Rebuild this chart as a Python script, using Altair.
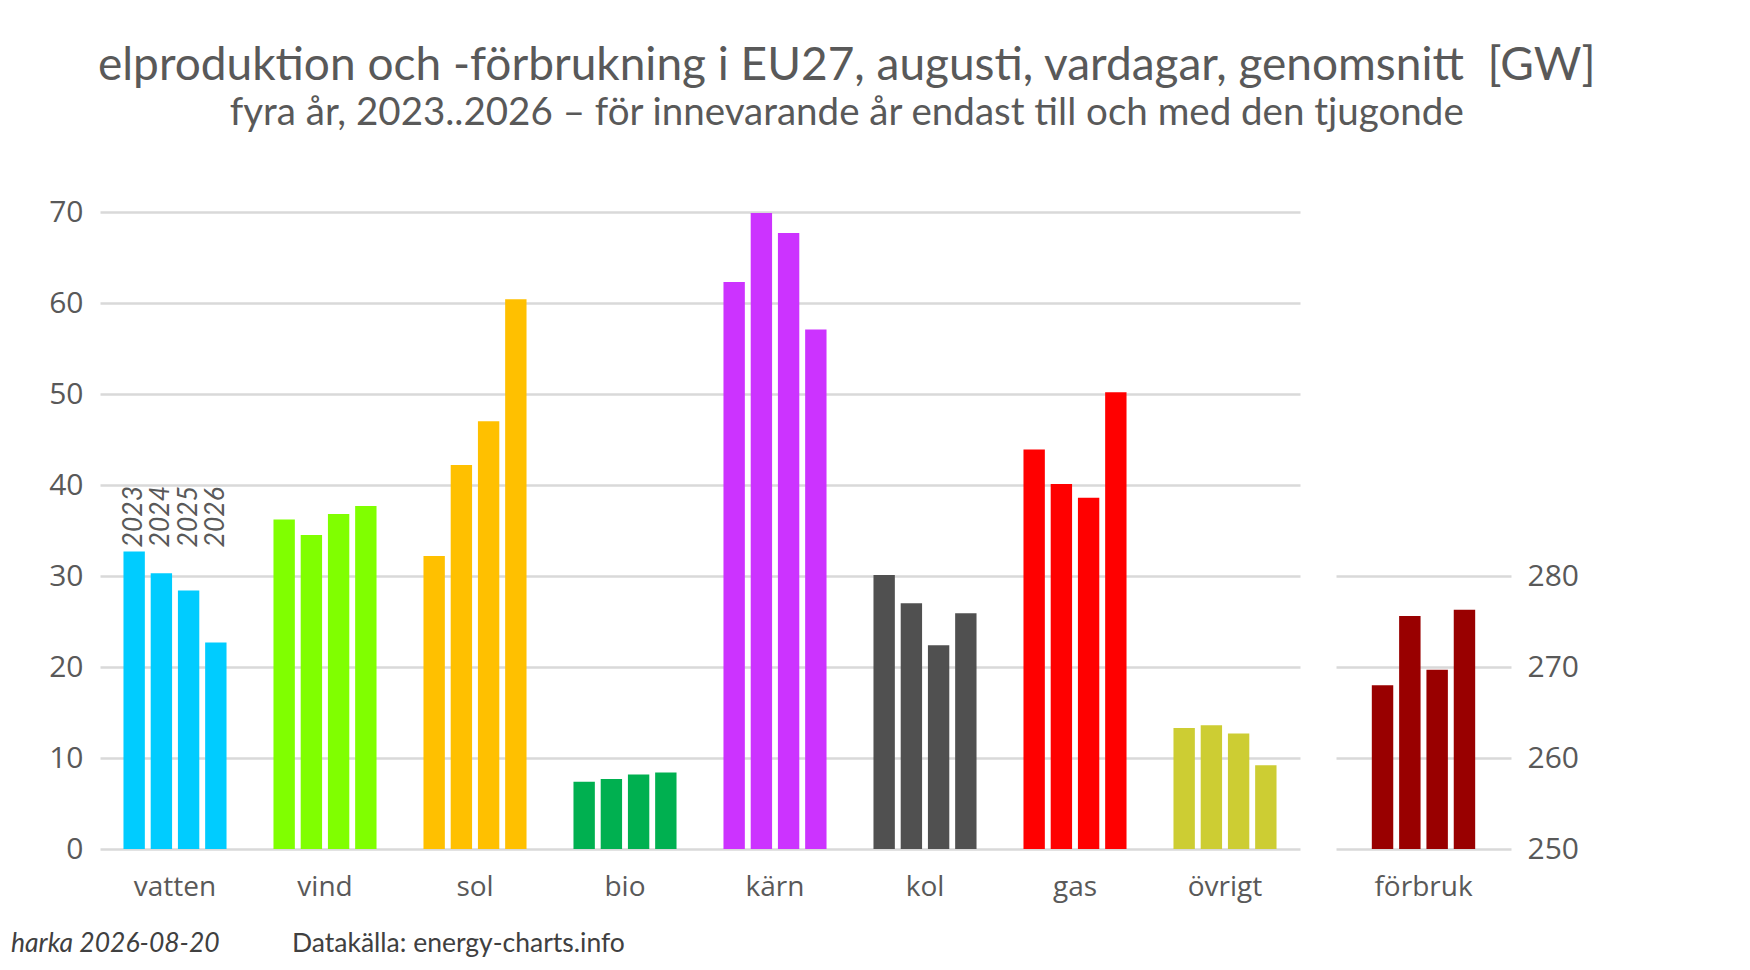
import altair as alt
import pandas as pd

years = ["2023", "2024", "2025", "2026"]
cats = ["vatten", "vind", "sol", "bio", "kärn", "kol", "gas", "övrigt"]
vatten = [32.7, 30.3, 28.4, 22.7]
vind = [36.2, 34.5, 36.8, 37.7]
sol = [32.2, 42.2, 47.0, 60.4]
bio = [7.4, 7.7, 8.2, 8.4]
karn = [62.3, 69.9, 67.7, 57.1]
kol = [30.1, 27.0, 22.4, 25.9]
gas = [43.9, 40.1, 38.6, 50.2]
ovrigt = [13.3, 13.6, 12.7, 9.2]
forbruk_cat = "förbruk"
forbruk = [268.0, 275.6, 269.7, 276.3]
colors = ["#00CCFF", "#80FF00", "#FFC000", "#00B050", "#CC33FF", "#505050", "#FF0000", "#CDCD33"]
forbruk_color = "#990000"

title_text = "elproduktion och -förbrukning i EU27, augusti, vardagar, genomsnitt\u00a0 [GW]"
subtitle_text = "fyra år, 2023..2026 – för innevarande år endast till och med den tjugonde"
footer_left = "harka 2026-08-20"
footer_right = "Datakälla: energy-charts.info"

series = [vatten, vind, sol, bio, karn, kol, gas, ovrigt]
rows = []
for c, vals in zip(cats, series):
    for y, v in zip(years, vals):
        rows.append({"cat": c, "year": y, "value": v})
df = pd.DataFrame(rows)
df2 = pd.DataFrame({"cat": [forbruk_cat] * 4, "year": years, "value": forbruk})

GRID = "#d9d9d9"
TXT = "#595959"

xaxis = alt.Axis(title=None, labelAngle=0, domain=False, ticks=False, labelPadding=24,
                 labelFontSize=28, labelFont="Open Sans", labelColor=TXT, grid=False)

base = alt.Chart(df).encode(
    x=alt.X("cat:N", sort=cats, scale=alt.Scale(paddingInner=0.313, paddingOuter=0.1565), axis=xaxis),
    xOffset=alt.XOffset("year:N", scale=alt.Scale(paddingInner=0.215, paddingOuter=0)),
)

bars = base.mark_bar().encode(
    y=alt.Y("value:Q", scale=alt.Scale(domain=[0, 70], nice=False),
            axis=alt.Axis(title=None, values=[0, 10, 20, 30, 40, 50, 60, 70], domain=False, ticks=False,
                          labelPadding=17, labelFontSize=30, labelFont="Open Sans", labelColor=TXT,
                          gridColor=GRID, gridWidth=2.5, minExtent=60, maxExtent=60)),
    color=alt.Color("cat:N", scale=alt.Scale(domain=cats, range=colors), legend=None),
)

year_labels = base.transform_filter(alt.datum.cat == "vatten").transform_joinaggregate(
    top="max(value)"
).mark_text(angle=270, align="left", baseline="middle", dx=4, font="Lato", fontStyle="italic",
            fontSize=26.5, color=TXT).encode(
    y=alt.Y("top:Q"),
    text="year:N",
)

foot1 = alt.Chart(pd.DataFrame({"t": [footer_left]})).mark_text(
    align="left", baseline="alphabetic", font="Lato", fontStyle="italic", fontSize=26.5, color="#404040"
).encode(x=alt.value(-89), y=alt.value(740), text="t:N")
foot2 = alt.Chart(pd.DataFrame({"t": [footer_right]})).mark_text(
    align="left", baseline="alphabetic", font="Lato", fontSize=26.5, color="#404040"
).encode(x=alt.value(192), y=alt.value(740), text="t:N")

left = alt.layer(bars, year_labels, foot1, foot2).properties(width=1200, height=637)

right = alt.Chart(df2).mark_bar(color=forbruk_color).encode(
    x=alt.X("cat:N", scale=alt.Scale(paddingInner=0.313, paddingOuter=0.238), axis=xaxis),
    xOffset=alt.XOffset("year:N", scale=alt.Scale(paddingInner=0.215, paddingOuter=0)),
    y=alt.Y("value:Q", scale=alt.Scale(domain=[250, 320], nice=False, zero=False),
            axis=alt.Axis(title=None, orient="right", values=[250, 260, 270, 280], domain=False, ticks=False,
                          labelPadding=16, labelFontSize=30, labelFont="Open Sans", labelColor=TXT,
                          gridColor=GRID, gridWidth=2.5)),
    y2=alt.datum(250),
).properties(width=175, height=637)

chart = alt.hconcat(left, right, spacing=36).resolve_scale(
    x="independent", y="independent", color="independent", xOffset="independent"
).properties(
    title=alt.TitleParams(
        text=title_text, subtitle=subtitle_text, font="Lato", fontSize=46, fontWeight="normal",
        color=TXT, subtitleFont="Lato", subtitleFontSize=38.5, subtitleColor=TXT, subtitlePadding=5,
        anchor="middle", offset=64, dx=52,
    ),
    padding={"left": 3, "top": 34, "right": 10, "bottom": 5},
    background="white",
).configure_view(stroke=None)

chart.save("out.html", embed_options={"renderer": "svg", "actions": False})
